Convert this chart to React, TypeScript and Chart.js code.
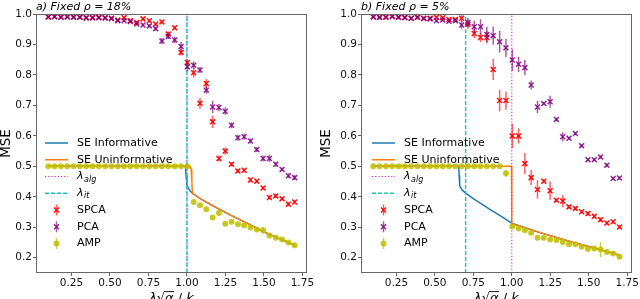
import React, { useEffect, useRef } from "react";
import { Chart, registerables } from "chart.js";

Chart.register(...registerables);

// ---------------- data ----------------
const X_VALUES = [
  0.100, 0.141, 0.182, 0.223, 0.264, 0.305, 0.346, 0.387, 0.428, 0.469,
  0.510, 0.551, 0.592, 0.633, 0.674, 0.715, 0.756, 0.797, 0.838, 0.879,
  0.921, 0.962, 1.003, 1.044, 1.085, 1.126, 1.167, 1.208, 1.249, 1.290,
  1.331, 1.372, 1.413, 1.454, 1.495, 1.536, 1.577, 1.618, 1.659, 1.700,
];
const X_TICKS = [0.25, 0.5, 0.75, 1.0, 1.25, 1.5, 1.75];
const Y_TICKS = [0.2, 0.3, 0.4, 0.5, 0.6, 0.7, 0.8, 0.9, 1.0];
const X_MIN = 0.02;
const X_MAX = 1.78;
const Y_MIN = 0.15;
const Y_MAX = 1.0;

// Panel a) rho = 18%
const A_SPCA = [
  0.990, 0.992, 0.990, 0.991, 0.990, 0.990, 0.988, 0.989, 0.989, 0.988,
  0.986, 0.980, 0.988, 0.978, 0.972, 0.984, 0.978, 0.967, 0.974, 0.934,
  0.955, 0.874, 0.841, 0.807, 0.707, 0.772, 0.646, 0.526, 0.550, 0.507,
  0.485, 0.487, 0.455, 0.451, 0.429, 0.398, 0.403, 0.394, 0.376, 0.383,
];
const A_SPCA_ERR = [
  0.003, 0.003, 0.003, 0.003, 0.003, 0.003, 0.003, 0.003, 0.003, 0.003,
  0.003, 0.004, 0.003, 0.004, 0.004, 0.004, 0.004, 0.005, 0.005, 0.008,
  0.006, 0.010, 0.010, 0.015, 0.018, 0.015, 0.020, 0.010, 0.012, 0.006,
  0.006, 0.006, 0.006, 0.006, 0.006, 0.006, 0.006, 0.006, 0.006, 0.006,
];
const A_PCA = [
  0.990, 0.991, 0.989, 0.990, 0.989, 0.989, 0.987, 0.987, 0.988, 0.987,
  0.985, 0.978, 0.978, 0.975, 0.967, 0.964, 0.961, 0.952, 0.911, 0.926,
  0.915, 0.893, 0.827, 0.832, 0.816, 0.750, 0.695, 0.693, 0.681, 0.635,
  0.594, 0.597, 0.583, 0.555, 0.526, 0.526, 0.507, 0.490, 0.469, 0.463,
];
const A_PCA_ERR = [
  0.003, 0.003, 0.003, 0.003, 0.003, 0.003, 0.003, 0.003, 0.003, 0.003,
  0.003, 0.004, 0.004, 0.004, 0.005, 0.005, 0.005, 0.006, 0.010, 0.008,
  0.010, 0.015, 0.015, 0.012, 0.010, 0.012, 0.020, 0.012, 0.012, 0.010,
  0.010, 0.010, 0.008, 0.008, 0.010, 0.012, 0.008, 0.006, 0.008, 0.008,
];
const A_AMP = [
  0.500, 0.500, 0.500, 0.500, 0.500, 0.500, 0.500, 0.500, 0.500, 0.500,
  0.500, 0.500, 0.500, 0.500, 0.500, 0.500, 0.500, 0.500, 0.500, 0.500,
  0.500, 0.500, 0.500, 0.383, 0.372, 0.359, 0.332, 0.347, 0.312, 0.318,
  0.310, 0.307, 0.299, 0.293, 0.290, 0.273, 0.266, 0.260, 0.250, 0.241,
];
const A_AMP_ERR = [
  0.002, 0.002, 0.002, 0.002, 0.002, 0.002, 0.002, 0.002, 0.002, 0.002,
  0.002, 0.002, 0.002, 0.002, 0.002, 0.002, 0.002, 0.002, 0.002, 0.002,
  0.002, 0.002, 0.004, 0.004, 0.004, 0.004, 0.004, 0.008, 0.004, 0.004,
  0.004, 0.004, 0.004, 0.004, 0.012, 0.004, 0.004, 0.004, 0.004, 0.004,
];
const A_SE_INF_X = [0.1, 0.99, 0.995, 1.0, 1.01, 1.02, 1.04, 1.1, 1.2, 1.3, 1.4, 1.5, 1.6, 1.7];
const A_SE_INF_Y = [0.5, 0.5, 0.47, 0.44, 0.428, 0.42, 0.41, 0.39, 0.362, 0.336, 0.311, 0.285, 0.263, 0.242];
const A_SE_UNI_X = [0.1, 1.02, 1.028, 1.032, 1.035, 1.04, 1.1, 1.2, 1.3, 1.4, 1.5, 1.6, 1.7];
const A_SE_UNI_Y = [0.5, 0.5, 0.49, 0.45, 0.42, 0.41, 0.39, 0.362, 0.336, 0.311, 0.285, 0.263, 0.242];
const A_LAMBDA_ALG = 1.0;
const A_LAMBDA_IT = 1.0;

// Panel b) rho = 5%
const B_SPCA = [
  0.991, 0.989, 0.989, 0.993, 0.989, 0.989, 0.986, 0.989, 0.986, 0.986,
  0.989, 0.988, 0.982, 0.982, 0.986, 0.966, 0.936, 0.923, 0.923, 0.818,
  0.716, 0.716, 0.600, 0.600, 0.509, 0.463, 0.424, 0.451, 0.420, 0.389,
  0.386, 0.367, 0.362, 0.351, 0.345, 0.336, 0.325, 0.314, 0.318, 0.301,
];
const B_SPCA_ERR = [
  0.003, 0.003, 0.003, 0.003, 0.003, 0.003, 0.003, 0.003, 0.003, 0.003,
  0.003, 0.003, 0.004, 0.004, 0.012, 0.015, 0.015, 0.015, 0.020, 0.035,
  0.035, 0.030, 0.040, 0.025, 0.035, 0.025, 0.030, 0.006, 0.030, 0.005,
  0.020, 0.006, 0.006, 0.006, 0.006, 0.006, 0.006, 0.006, 0.006, 0.006,
];
const B_PCA = [
  0.990, 0.989, 0.990, 0.991, 0.989, 0.988, 0.986, 0.989, 0.985, 0.984,
  0.978, 0.980, 0.976, 0.978, 0.964, 0.972, 0.958, 0.958, 0.933, 0.929,
  0.909, 0.889, 0.849, 0.835, 0.824, 0.767, 0.695, 0.706, 0.712, 0.654,
  0.597, 0.592, 0.608, 0.568, 0.522, 0.522, 0.531, 0.504, 0.460, 0.462,
];
const B_PCA_ERR = [
  0.003, 0.003, 0.003, 0.003, 0.003, 0.003, 0.003, 0.003, 0.003, 0.003,
  0.004, 0.004, 0.005, 0.006, 0.012, 0.015, 0.020, 0.025, 0.025, 0.030,
  0.035, 0.030, 0.035, 0.025, 0.025, 0.015, 0.020, 0.005, 0.020, 0.005,
  0.015, 0.005, 0.005, 0.005, 0.005, 0.005, 0.005, 0.005, 0.005, 0.005,
];
const B_AMP = [
  0.500, 0.500, 0.500, 0.500, 0.500, 0.500, 0.500, 0.500, 0.500, 0.500,
  0.500, 0.500, 0.500, 0.500, 0.500, 0.500, 0.500, 0.500, 0.500, 0.500,
  0.500, 0.477, 0.303, 0.296, 0.290, 0.282, 0.266, 0.266, 0.260, 0.258,
  0.252, 0.244, 0.244, 0.236, 0.229, 0.230, 0.227, 0.219, 0.214, 0.203,
];
const B_AMP_ERR = [
  0.002, 0.002, 0.002, 0.002, 0.002, 0.002, 0.002, 0.002, 0.002, 0.002,
  0.002, 0.002, 0.002, 0.002, 0.002, 0.002, 0.002, 0.002, 0.002, 0.002,
  0.002, 0.012, 0.004, 0.004, 0.004, 0.004, 0.004, 0.004, 0.004, 0.004,
  0.004, 0.004, 0.004, 0.004, 0.004, 0.008, 0.025, 0.004, 0.004, 0.004,
];
const B_SE_INF_X = [0.1, 0.655, 0.658, 0.661, 0.67, 0.68, 0.70, 0.75, 0.8, 0.85, 0.9, 0.95, 1.0, 1.1, 1.2, 1.3, 1.4, 1.5, 1.6, 1.7];
const B_SE_INF_Y = [0.5, 0.5, 0.47, 0.437, 0.428, 0.421, 0.412, 0.394, 0.378, 0.361, 0.346, 0.330, 0.313, 0.296, 0.280, 0.265, 0.250, 0.237, 0.223, 0.208];
const B_SE_UNI_X = [0.1, 0.998, 1.0, 1.1, 1.2, 1.3, 1.4, 1.5, 1.6, 1.7];
const B_SE_UNI_Y = [0.5, 0.5, 0.312, 0.296, 0.280, 0.265, 0.250, 0.237, 0.223, 0.208];
const B_LAMBDA_ALG = 1.0;
const B_LAMBDA_IT = 0.70;

const LEGEND_LABELS = ["SE Informative", "SE Uninformative", "λ|alg", "λ|it", "SPCA", "PCA", "AMP"];

// ---------------- styles ----------------
const FONT = '"DejaVu Sans", sans-serif';
const C_BLUE = "#1f77b4";
const C_ORANGE = "#ff7f0e";
const C_MAGENTA = "#d020d0";
const C_CYAN = "#19c6c6";
const C_RED = "rgba(255,0,0,0.95)";
const C_RED_ERR = "rgba(255,40,40,0.75)";
const C_PURPLE = "rgba(128,0,128,0.85)";
const C_PURPLE_ERR = "rgba(128,0,128,0.65)";
const C_YELLOW = "rgba(191,191,0,0.85)";
const C_YELLOW_ERR = "rgba(191,191,0,0.75)";
const C_SPINE = "#666";

type PanelDef = {
  title: string;
  yAxisWidth: number;
  padRight: number;
  legendDx: number;
  spca: number[]; spcaErr: number[];
  pca: number[]; pcaErr: number[];
  amp: number[]; ampErr: number[];
  seInfX: number[]; seInfY: number[];
  seUniX: number[]; seUniY: number[];
  lamAlg: number; lamIt: number;
};

const PANEL_A: PanelDef = {
  title: "a) Fixed ρ = 18%",
  yAxisWidth: 36, padRight: 13, legendDx: 9,
  spca: A_SPCA, spcaErr: A_SPCA_ERR, pca: A_PCA, pcaErr: A_PCA_ERR, amp: A_AMP, ampErr: A_AMP_ERR,
  seInfX: A_SE_INF_X, seInfY: A_SE_INF_Y, seUniX: A_SE_UNI_X, seUniY: A_SE_UNI_Y,
  lamAlg: A_LAMBDA_ALG, lamIt: A_LAMBDA_IT,
};
const PANEL_B: PanelDef = {
  title: "b) Fixed ρ = 5%",
  yAxisWidth: 41, padRight: 7, legendDx: 11,
  spca: B_SPCA, spcaErr: B_SPCA_ERR, pca: B_PCA, pcaErr: B_PCA_ERR, amp: B_AMP, ampErr: B_AMP_ERR,
  seInfX: B_SE_INF_X, seInfY: B_SE_INF_Y, seUniX: B_SE_UNI_X, seUniY: B_SE_UNI_Y,
  lamAlg: B_LAMBDA_ALG, lamIt: B_LAMBDA_IT,
};

const zip = (xs: number[], ys: number[]) => xs.map((x, i) => ({ x, y: ys[i] }));

// ---------------- plugins ----------------
const errorBarPlugin = {
  id: "errorBars",
  beforeDatasetDraw(chart: any, args: any) {
    const ds: any = chart.data.datasets[args.index];
    if (!ds.errors) return;
    const { ctx, chartArea } = chart;
    const xs = chart.scales.x;
    const ys = chart.scales.y;
    ctx.save();
    ctx.beginPath();
    ctx.rect(chartArea.left, chartArea.top, chartArea.right - chartArea.left, chartArea.bottom - chartArea.top);
    ctx.clip();
    ctx.strokeStyle = ds.errColor;
    ctx.lineWidth = 1.5;
    ctx.beginPath();
    ds.data.forEach((p: any, i: number) => {
      const e = ds.errors[i];
      const px = xs.getPixelForValue(p.x);
      ctx.moveTo(px, ys.getPixelForValue(p.y - e));
      ctx.lineTo(px, ys.getPixelForValue(p.y + e));
    });
    ctx.stroke();
    ctx.restore();
  },
};

function drawCross(ctx: CanvasRenderingContext2D, x: number, y: number, r: number) {
  ctx.beginPath();
  ctx.moveTo(x - r, y - r); ctx.lineTo(x + r, y + r);
  ctx.moveTo(x - r, y + r); ctx.lineTo(x + r, y - r);
  ctx.stroke();
}

function makeDecorPlugin(panel: PanelDef) {
  return {
    id: "decor",
    afterDatasetsDraw(chart: any) {
      const { ctx, chartArea: a } = chart;
      ctx.save();
      // frame
      ctx.strokeStyle = C_SPINE;
      ctx.lineWidth = 1;
      ctx.strokeRect(Math.round(a.left) + 0.5, Math.round(a.top) + 0.5, Math.round(a.right - a.left) - 1, Math.round(a.bottom - a.top) - 1);

      // title
      ctx.fillStyle = "#000";
      ctx.font = `italic 11px ${FONT}`;
      ctx.textAlign = "left";
      ctx.textBaseline = "middle";
      ctx.fillText(panel.title, a.left, 7);

      // y label
      ctx.save();
      ctx.translate(6, (a.top + a.bottom) / 2);
      ctx.rotate(-Math.PI / 2);
      ctx.font = `13.5px ${FONT}`;
      ctx.textAlign = "center";
      ctx.textBaseline = "middle";
      ctx.fillText("MSE", 0, 0);
      ctx.restore();

      // x label: λ√α / k
      const fs = 13;
      const parts = [
        { t: "λ", it: true },
        { t: "√", it: false },
        { t: "α", it: true, bar: true },
        { t: " / ", it: false },
        { t: "k", it: true },
      ];
      let total = 0;
      const widths = parts.map((p) => {
        ctx.font = `${p.it ? "italic " : ""}${fs}px ${FONT}`;
        const w = ctx.measureText(p.t).width;
        total += w;
        return w;
      });
      let cx = (a.left + a.right) / 2 - total / 2;
      const base = 302;
      ctx.textAlign = "left";
      ctx.textBaseline = "alphabetic";
      parts.forEach((p, i) => {
        ctx.font = `${p.it ? "italic " : ""}${fs}px ${FONT}`;
        ctx.fillText(p.t, cx, base);
        if (p.bar) {
          ctx.strokeStyle = "#000";
          ctx.lineWidth = 0.9;
          ctx.beginPath();
          ctx.moveTo(cx - 1, base - fs * 0.8);
          ctx.lineTo(cx + widths[i] + 0.5, base - fs * 0.8);
          ctx.stroke();
        }
        cx += widths[i];
      });

      // legend
      const hx = a.left + panel.legendDx;
      const hw = 23;
      const tx = hx + 32;
      const y0 = a.top + 129;
      const dy = 16.75;
      ctx.font = `11px ${FONT}`;
      LEGEND_LABELS.forEach((lab, i) => {
        const y = y0 + i * dy;
        ctx.save();
        if (i === 0 || i === 1) {
          ctx.strokeStyle = i === 0 ? C_BLUE : C_ORANGE;
          ctx.lineWidth = 1.5;
          ctx.beginPath(); ctx.moveTo(hx, y); ctx.lineTo(hx + hw, y); ctx.stroke();
        } else if (i === 2) {
          ctx.strokeStyle = C_MAGENTA; ctx.lineWidth = 1.1; ctx.setLineDash([1.2, 2]);
          ctx.beginPath(); ctx.moveTo(hx, y); ctx.lineTo(hx + hw, y); ctx.stroke();
        } else if (i === 3) {
          ctx.strokeStyle = C_CYAN; ctx.lineWidth = 1.4; ctx.setLineDash([4, 2]);
          ctx.beginPath(); ctx.moveTo(hx, y); ctx.lineTo(hx + hw, y); ctx.stroke();
        } else {
          const xc = hx + hw / 2;
          const col = i === 4 ? C_RED : i === 5 ? C_PURPLE : C_YELLOW;
          const ecol = i === 4 ? C_RED_ERR : i === 5 ? C_PURPLE_ERR : C_YELLOW_ERR;
          ctx.strokeStyle = ecol; ctx.lineWidth = 1.5;
          ctx.beginPath(); ctx.moveTo(xc, y - 5.5); ctx.lineTo(xc, y + 5.5); ctx.stroke();
          if (i === 6) {
            ctx.fillStyle = col;
            ctx.beginPath(); ctx.arc(xc, y, 3, 0, Math.PI * 2); ctx.fill();
          } else {
            ctx.strokeStyle = col; ctx.lineWidth = 1.5;
            drawCross(ctx, xc, y, 2.5);
          }
        }
        ctx.restore();
        ctx.fillStyle = "#000";
        ctx.textBaseline = "middle";
        if (lab.includes("|")) {
          const [main, sub] = lab.split("|");
          ctx.font = `italic 11px ${FONT}`;
          ctx.fillText(main, tx, y);
          const w = ctx.measureText(main).width;
          ctx.font = `italic 8px ${FONT}`;
          ctx.fillText(sub, tx + w + 0.5, y + 3);
          ctx.font = `11px ${FONT}`;
        } else {
          ctx.font = `11px ${FONT}`;
          ctx.fillText(lab, tx, y);
        }
      });
      ctx.restore();
    },
  };
}

function buildConfig(panel: PanelDef): any {
  const pts = (ys: number[]) => zip(X_VALUES, ys);
  return {
    type: "scatter",
    data: {
      datasets: [
        {
          label: "SE Informative", data: zip(panel.seInfX, panel.seInfY), showLine: true,
          borderColor: C_BLUE, borderWidth: 1.5, pointRadius: 0, order: 7,
        },
        {
          label: "SE Uninformative", data: zip(panel.seUniX, panel.seUniY), showLine: true,
          borderColor: C_ORANGE, borderWidth: 1.5, pointRadius: 0, order: 6,
        },
        {
          label: "lambda_alg", data: [{ x: panel.lamAlg, y: Y_MIN }, { x: panel.lamAlg, y: Y_MAX }], showLine: true,
          borderColor: C_MAGENTA, borderWidth: 1.1, borderDash: [1.2, 2], pointRadius: 0, order: 5,
        },
        {
          label: "lambda_it", data: [{ x: panel.lamIt, y: Y_MIN }, { x: panel.lamIt, y: Y_MAX }], showLine: true,
          borderColor: C_CYAN, borderWidth: 1.4, borderDash: [4, 2], pointRadius: 0, order: 4,
        },
        {
          label: "SPCA", data: pts(panel.spca), errors: panel.spcaErr, errColor: C_RED_ERR,
          pointStyle: "crossRot", pointRadius: 3.5, borderColor: C_RED, borderWidth: 1.5, order: 3,
        },
        {
          label: "PCA", data: pts(panel.pca), errors: panel.pcaErr, errColor: C_PURPLE_ERR,
          pointStyle: "crossRot", pointRadius: 3.5, borderColor: C_PURPLE, borderWidth: 1.5, order: 2,
        },
        {
          label: "AMP", data: pts(panel.amp), errors: panel.ampErr, errColor: C_YELLOW_ERR,
          pointStyle: "circle", pointRadius: 3, borderWidth: 0, backgroundColor: C_YELLOW, borderColor: C_YELLOW, order: 1,
        },
      ],
    },
    options: {
      responsive: false,
      maintainAspectRatio: false,
      devicePixelRatio: 1,
      animation: false,
      events: [],
      layout: { padding: { left: 0, right: panel.padRight, top: 14, bottom: 0 } },
      plugins: { legend: { display: false }, tooltip: { enabled: false }, title: { display: false } },
      scales: {
        x: {
          type: "linear", min: X_MIN, max: X_MAX,
          afterBuildTicks: (s: any) => { s.ticks = X_TICKS.map((v) => ({ value: v })); },
          afterFit: (s: any) => { s.height = 26; },
          ticks: {
            callback: (v: any) => Number(v).toFixed(2), color: "#111", padding: 1,
            font: { family: FONT, size: 10.5 }, maxRotation: 0, autoSkip: false,
          },
          grid: { drawOnChartArea: false, drawTicks: true, tickLength: 3, tickColor: C_SPINE, tickWidth: 1 },
          border: { display: false },
        },
        y: {
          type: "linear", min: Y_MIN, max: Y_MAX,
          afterBuildTicks: (s: any) => { s.ticks = Y_TICKS.map((v) => ({ value: v })); },
          afterFit: (s: any) => { s.width = panel.yAxisWidth; },
          ticks: {
            callback: (v: any) => Number(v).toFixed(1), color: "#111", padding: 1,
            font: { family: FONT, size: 10.5 }, autoSkip: false,
          },
          grid: { drawOnChartArea: false, drawTicks: true, tickLength: 3, tickColor: C_SPINE, tickWidth: 1 },
          border: { display: false },
        },
      },
    },
    plugins: [errorBarPlugin, makeDecorPlugin(panel)],
  };
}

function Panel({ panel, left }: { panel: PanelDef; left: number }) {
  const ref = useRef<HTMLCanvasElement>(null);
  useEffect(() => {
    if (!ref.current) return;
    const chart = new Chart(ref.current, buildConfig(panel));
    return () => chart.destroy();
  }, [panel]);
  return (
    <canvas
      ref={ref}
      width={320}
      height={299}
      style={{ position: "absolute", left, top: 0, width: 320, height: 299, display: "block" }}
    />
  );
}

export default function App() {
  return (
    <div style={{ position: "fixed", left: 0, top: 0, width: 640, height: 299, background: "#fff", overflow: "hidden" }}>
      <Panel panel={PANEL_A} left={0} />
      <Panel panel={PANEL_B} left={320} />
    </div>
  );
}
